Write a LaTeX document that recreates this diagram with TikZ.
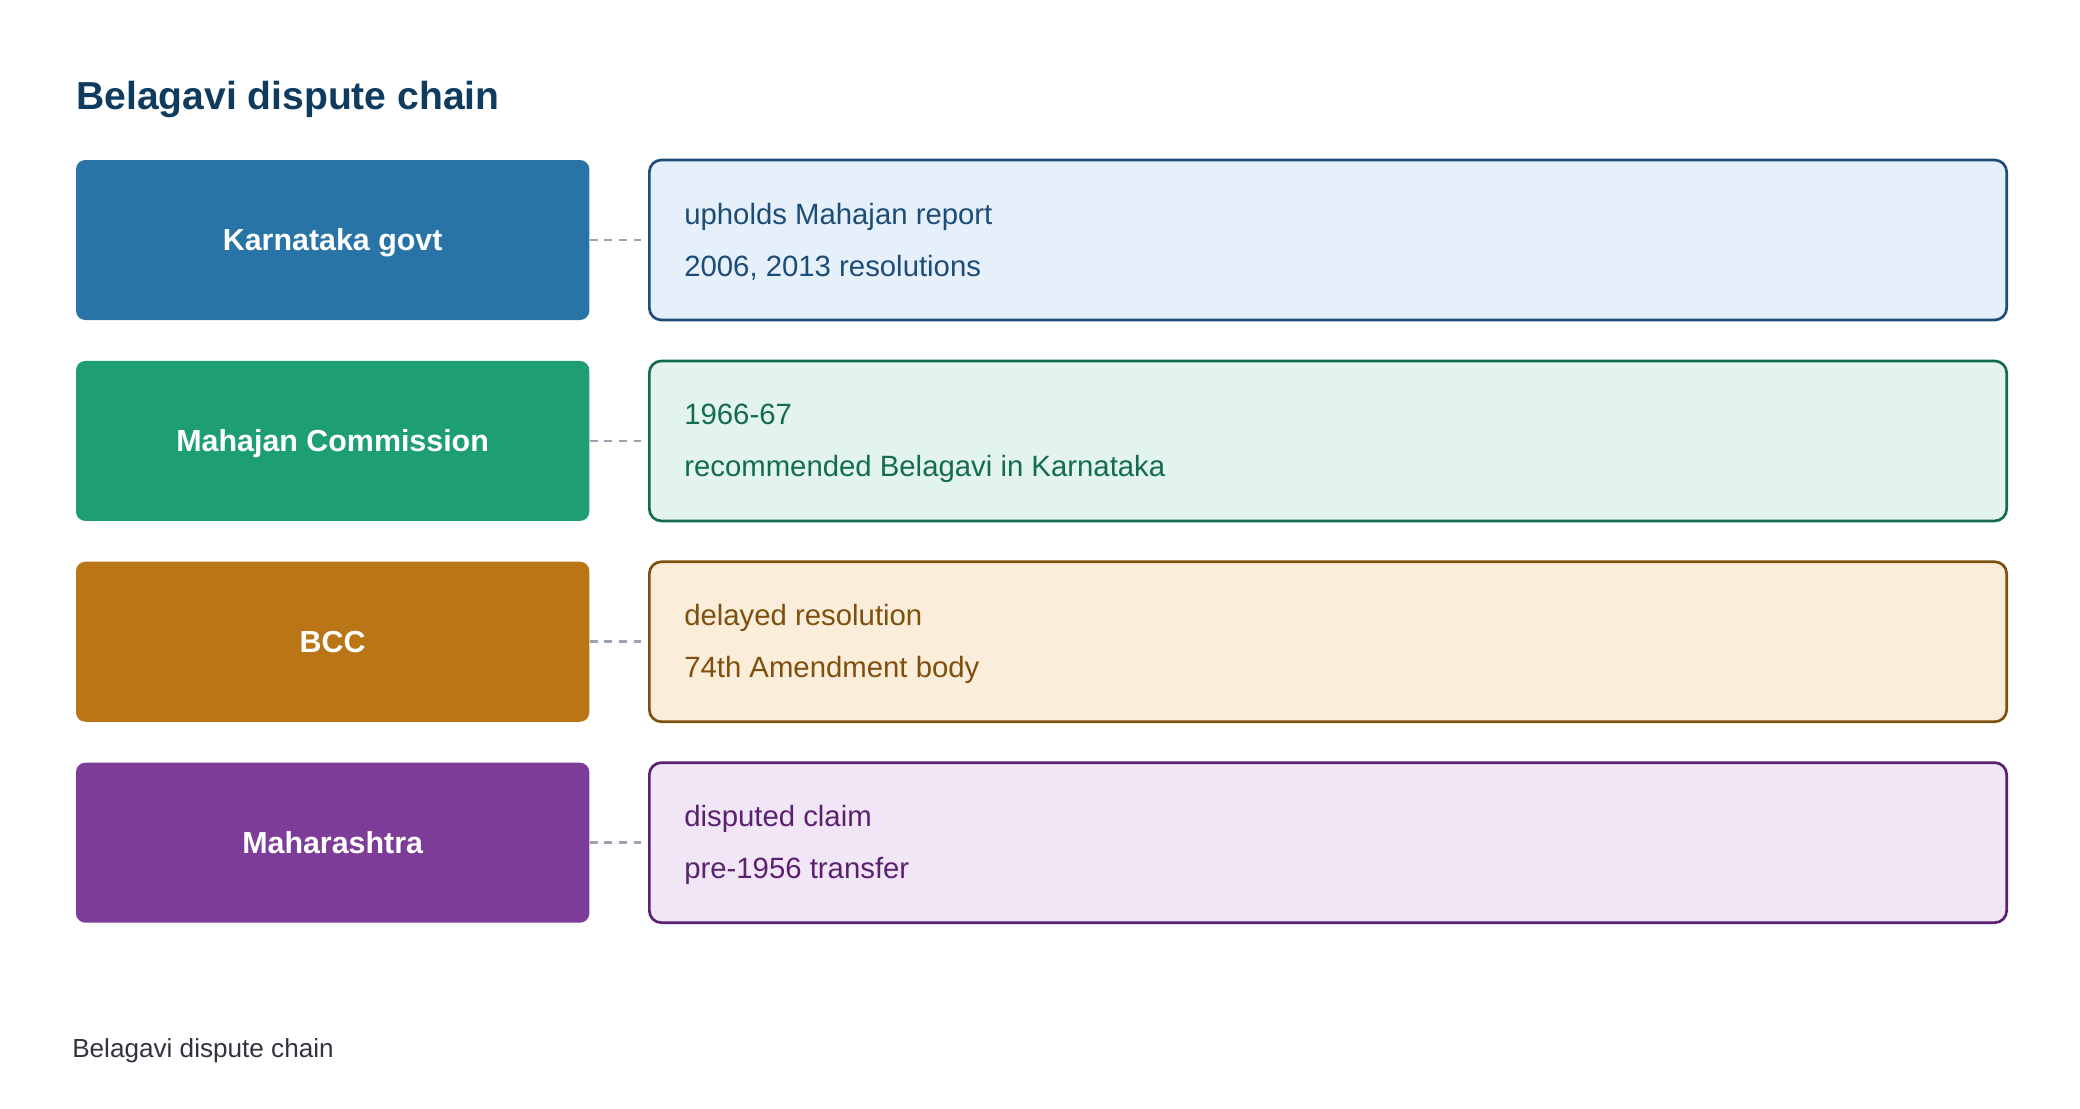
\documentclass[tikz,border=0pt]{standalone}
\usepackage{fontspec}
\setmainfont{Liberation Sans}
\definecolor{titlec}{HTML}{0F3B5F}
\definecolor{footc}{HTML}{33333F}
\definecolor{dashc}{HTML}{9AA3AE}
\definecolor{bA}{HTML}{2874A6}\definecolor{bAf}{HTML}{E6F0FA}\definecolor{bAd}{HTML}{1C4D78}
\definecolor{gA}{HTML}{1D9E74}\definecolor{gAf}{HTML}{E2F4EC}\definecolor{gAd}{HTML}{136D4D}
\definecolor{oA}{HTML}{B97516}\definecolor{oAf}{HTML}{FAEDDA}\definecolor{oAd}{HTML}{7F4F0D}
\definecolor{pA}{HTML}{7D3C98}\definecolor{pAf}{HTML}{F0E6F6}\definecolor{pAd}{HTML}{5B2170}
\tikzset{
  leftbox/.style={rounded corners=7pt, minimum width=385pt, minimum height=120pt, inner sep=0pt,
    text height=16.3pt, text depth=0pt,
    text=white, font=\fontsize{22.8}{27}\selectfont\bfseries},
  rightbox/.style={rounded corners=9pt, minimum width=1018pt, minimum height=120pt, inner sep=0pt, line width=2pt},
  detail/.style={anchor=west, align=left, inner sep=0pt, font=\fontsize{22}{39}\selectfont},
  conn/.style={draw=dashc, line width=2pt, dash pattern=on 6pt off 5pt},
}
\begin{document}
\begin{tikzpicture}[x=1pt,y=-1pt]
\useasboundingbox (0,0) rectangle (1560,831);
\node[anchor=base west, inner sep=0pt, text=titlec, font=\fontsize{29.3}{34}\selectfont\bfseries] (title) at (57,82) {Belagavi dispute chain};

% row 1
\node[leftbox, fill=bA] (k) at (249.5,180) {Karnataka govt};
\node[rightbox, fill=bAf, draw=bAd] (kd) at (996,180) {};
\node[detail, text=bAd] (kdt) at (513,181.5) {upholds Mahajan report\\2006, 2013 resolutions};
\draw[conn] (k.east) -- ([xshift=-5pt]kd.west);

% row 2
\node[leftbox, fill=gA] (m) at (249.5,330.7) {Mahajan Commission};
\node[rightbox, fill=gAf, draw=gAd] (md) at (996,330.7) {};
\node[detail, text=gAd] (mdt) at (513,332.2) {1966-67\\recommended Belagavi in Karnataka};
\draw[conn] (m.east) -- ([xshift=-5pt]md.west);

% row 3
\node[leftbox, fill=oA] (b) at (249.5,481.3) {BCC};
\node[rightbox, fill=oAf, draw=oAd] (bd) at (996,481.3) {};
\node[detail, text=oAd] (bdt) at (513,482.8) {delayed resolution\\74th Amendment body};
\draw[conn] (b.east) -- ([xshift=-5pt]bd.west);

% row 4
\node[leftbox, fill=pA] (h) at (249.5,632) {Maharashtra};
\node[rightbox, fill=pAf, draw=pAd] (hd) at (996,632) {};
\node[detail, text=pAd] (hdt) at (513,633.5) {disputed claim\\pre-1956 transfer};
\draw[conn] (h.east) -- ([xshift=-5pt]hd.west);

\node[anchor=base west, inner sep=0pt, text=footc, font=\fontsize{19.6}{24}\selectfont] (foot) at (54,793) {Belagavi dispute chain};
\end{tikzpicture}
\end{document}
